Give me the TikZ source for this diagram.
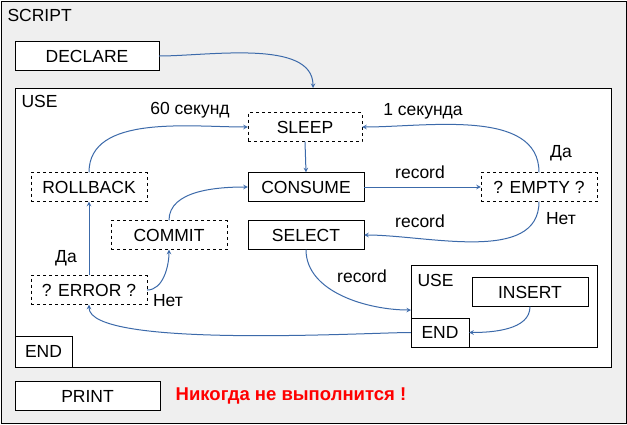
\documentclass[tikz,border=0pt]{standalone}
\usepackage{fontspec}
\setmainfont{Liberation Sans}
\usetikzlibrary{positioning}
\definecolor{flow}{HTML}{3C6AAA}
\definecolor{back}{HTML}{EFEFEF}
\tikzset{
  stepbox/.style={draw, fill=white, minimum width=116pt, minimum height=29pt, inner sep=0pt},
  optbox/.style={stepbox, dashed},
  frame/.style={draw, fill=white},
  flowarrow/.style={-stealth, flow, line width=1pt},
  tag/.style={inner sep=1pt, text=black}
}
\begin{document}
\begin{tikzpicture}[x=1pt, y=-1pt, font=\fontsize{17.5}{20}\selectfont]
\useasboundingbox (0,0) rectangle (627,424);
% outer frame
\draw[fill=back] (1,1) rectangle (626,423);
\node[anchor=west] (script) at (4,15) {SCRIPT};
\node[stepbox, minimum width=144pt] (declare) at (87,56) {DECLARE};
\draw[frame] (15,88) rectangle (611,367);
\coordinate (usetop) at (313,88);
\node[anchor=west] (use) at (18,101) {USE};
\draw (15,336) rectangle (72,367);
\node (endout) at (43.5,351) {END};
\node[stepbox, minimum width=145pt] (print) at (87.5,396) {PRINT};
\node[text=red, font=\fontsize{18.5}{21}\selectfont\bfseries] (never) at (291,396) {Никогда не выполнится !};
% steps
\node[optbox, minimum width=114pt] (sleep) at (305,127) {SLEEP};
\node[stepbox] (consume) at (306,187) {CONSUME};
\node[stepbox] (select) at (306,235) {SELECT};
\node[optbox] (empty) at (539,187) {? EMPTY ?};
\node[optbox] (rollback) at (89,187) {ROLLBACK};
\node[optbox] (commit) at (169,235) {COMMIT};
\node[optbox] (error) at (89,290) {? ERROR ?};
% inner use
\draw[frame] (411,265) rectangle (597,347);
\node[anchor=west] (use2) at (414,280) {USE};
\coordinate (usein) at (411,310);
\node[stepbox] (insert) at (530,292) {INSERT};
\node[stepbox, minimum width=58pt] (endin) at (440,332.5) {END};
% connectors
\draw[flowarrow] (declare.east) to[out=0, in=90, looseness=0.8] (usetop);
\draw[flowarrow] (rollback.north) to[out=90, in=180, looseness=0.9] (sleep.west);
\node[tag] (sixty) at (190,110) {60 секунд};
\draw[flowarrow] (empty.north) to[out=90, in=0, looseness=0.9] (sleep.east);
\node[tag] (one) at (423,111) {1 секунда};
\node[tag] (yes1) at (561,153) {Да};
\draw[flowarrow] (sleep.south) -- (consume.north);
\draw[flowarrow] (consume.east) -- (empty.west);
\node[tag] (rec1) at (420,172) {record};
\draw[flowarrow] (empty.south) to[out=-90, in=0, looseness=0.9] (select.east);
\node[tag] (rec2) at (420,221) {record};
\node[tag] (no1) at (561,219) {Нет};
\draw[flowarrow] (commit.north) to[out=90, in=180, looseness=0.9] (consume.west);
\draw[flowarrow] (error.north) -- (rollback.south);
\node[tag] (yes2) at (66,258) {Да};
\draw[flowarrow] (error.east) to[out=0, in=-90, looseness=0.9] (commit.south);
\node[tag] (no2) at (168,301) {Нет};
\draw[flowarrow] (select.south) to[out=-90, in=180, looseness=0.9] (usein);
\node[tag] (rec3) at (362,276) {record};
\draw[flowarrow] (insert.south) to[out=-90, in=0, looseness=0.9] (endin.east);
\draw[flowarrow] (endin.west) to[out=180, in=-90, looseness=0.35] (error.south);
\end{tikzpicture}
\end{document}
